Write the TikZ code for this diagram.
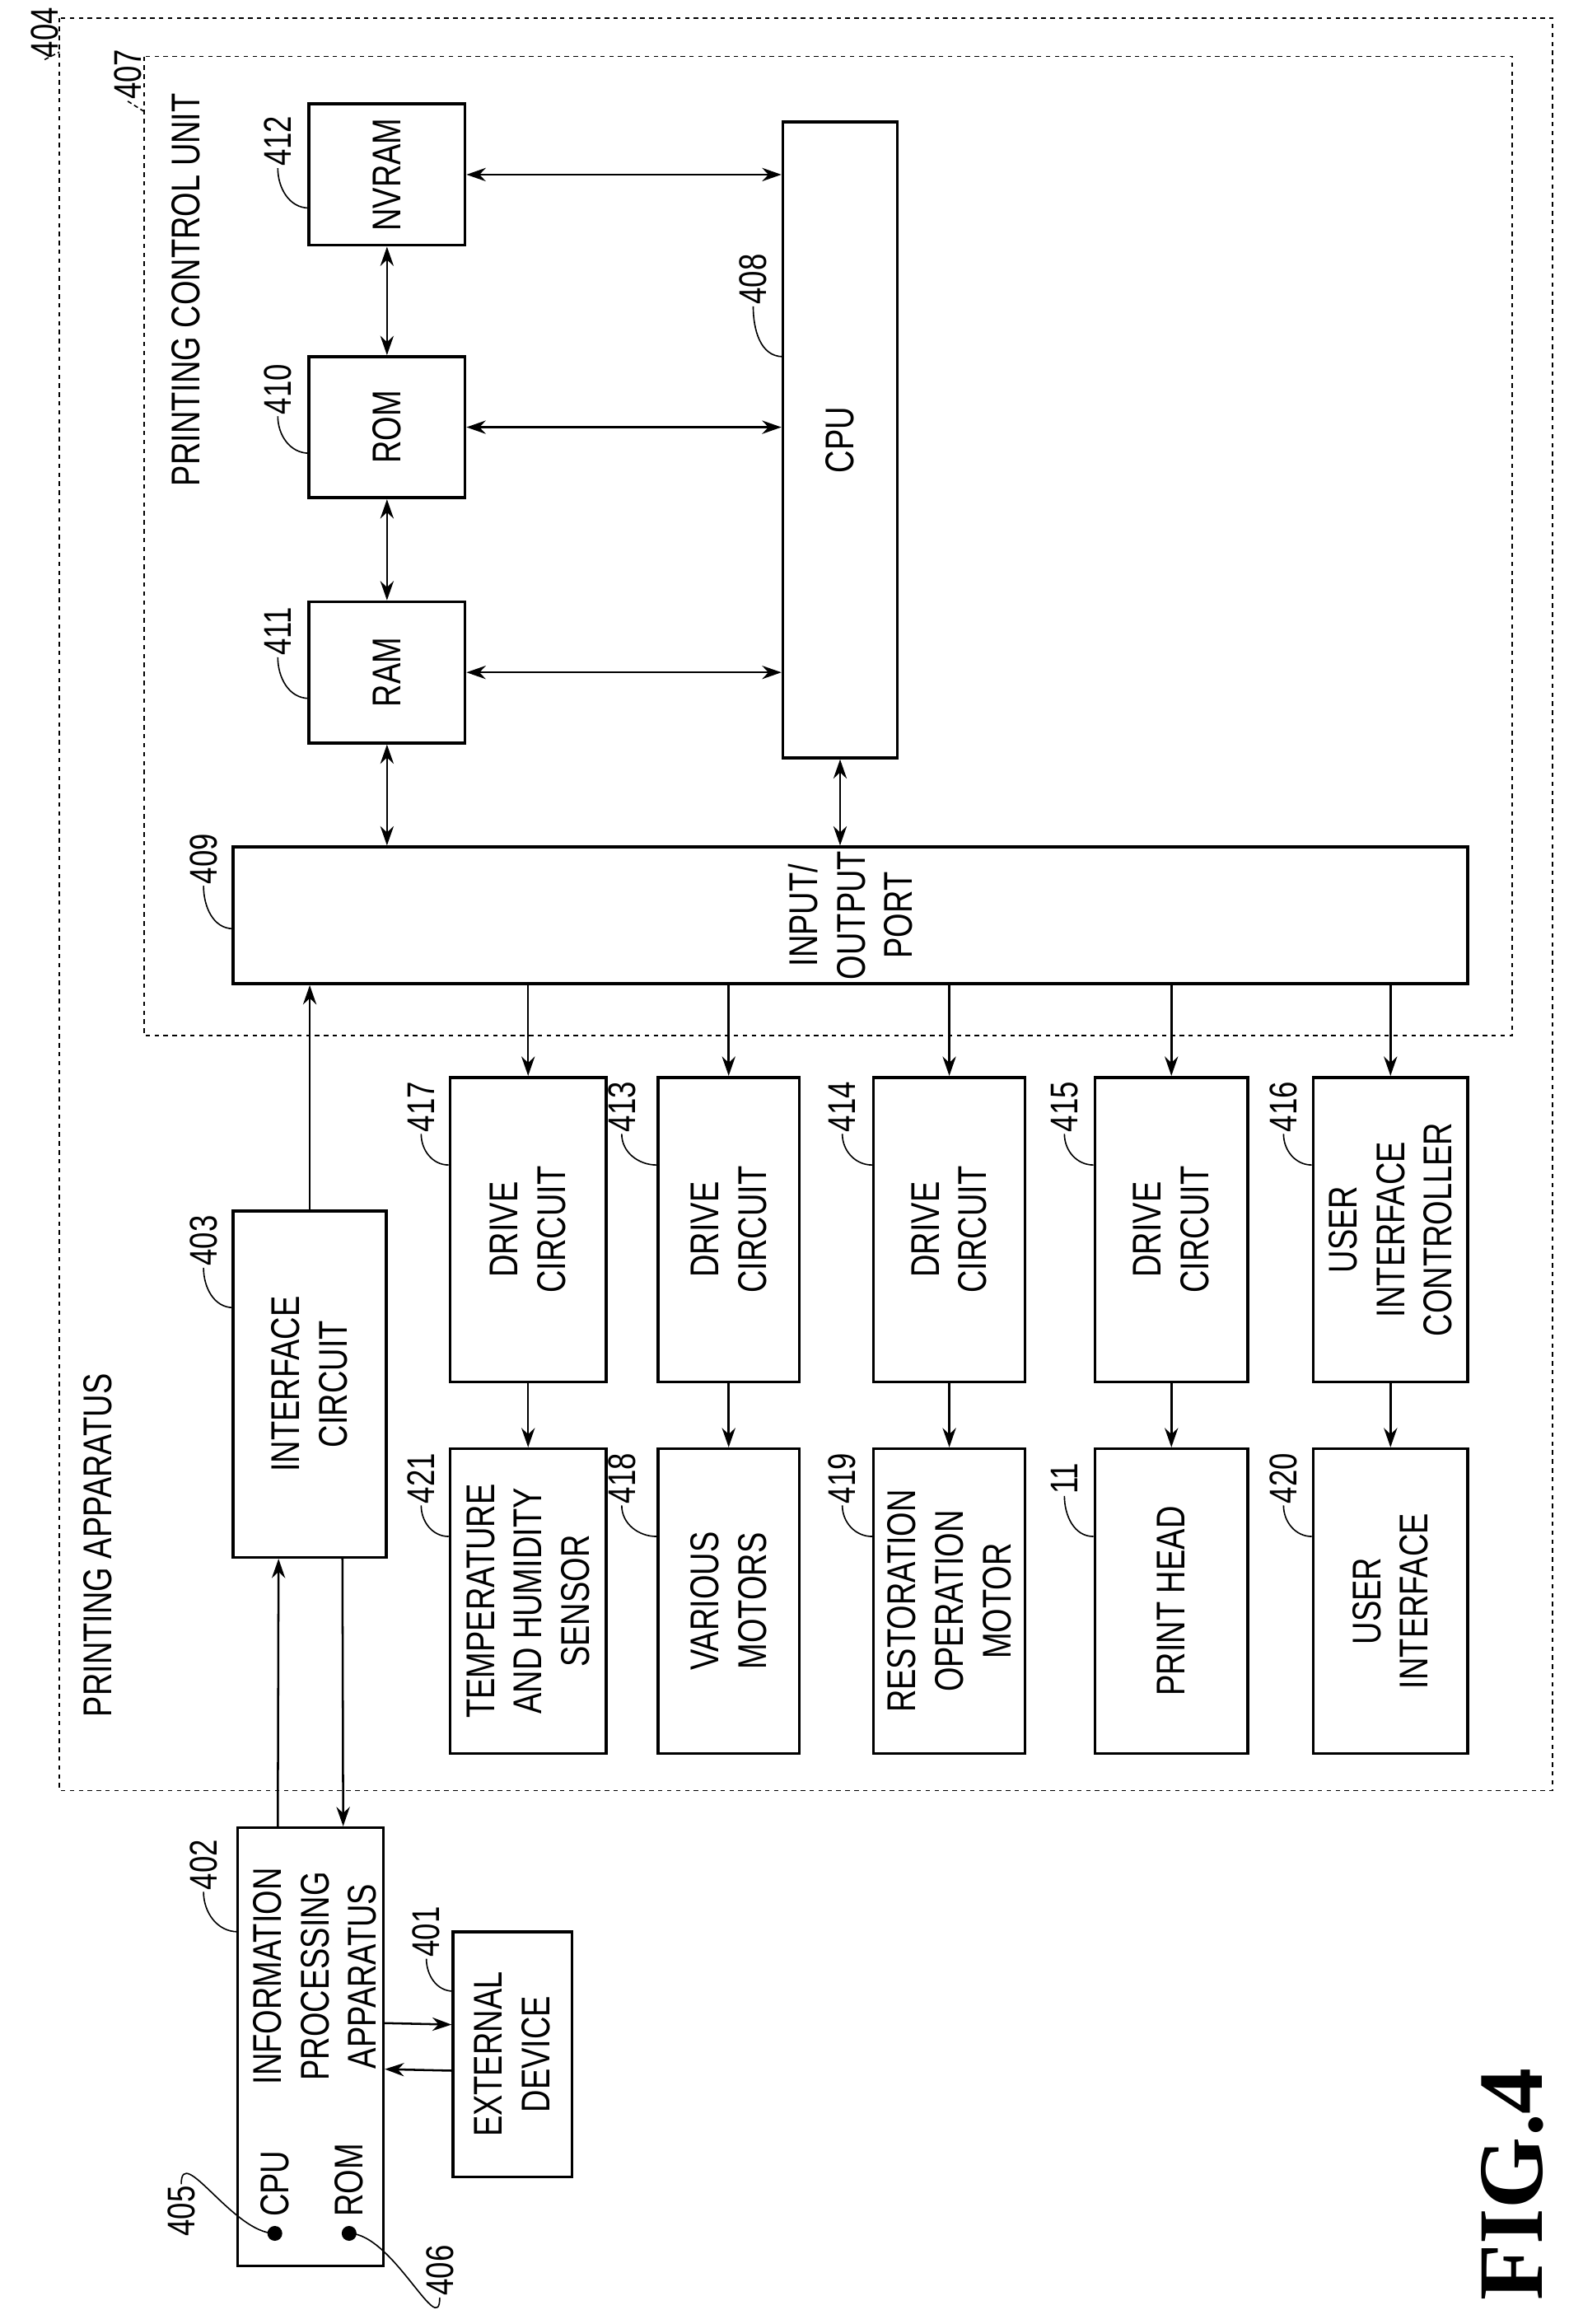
\documentclass[tikz,border=0pt]{standalone}
\usepackage{fontspec}
\setmainfont{Liberation Sans}[FakeStretch=0.78]
\newfontfamily\figfont{Liberation Serif}
\usetikzlibrary{arrows.meta, positioning, calc}
\tikzset{
  box/.style = {draw, line width=2pt, inner sep=0pt},
  txt/.style = {rotate=90, align=center, inner sep=0pt, font=\fontsize{27}{32}\selectfont},
  num/.style = {rotate=90, inner sep=1pt, font=\fontsize{26}{30}\selectfont},
  frame/.style = {draw, dashed, line width=1pt},
  arrow/.style = {line width=1.4pt, -{Stealth[length=13pt, width=9pt]}},
  darrow/.style = {line width=1.4pt, {Stealth[length=13pt, width=9pt]}-{Stealth[length=13pt, width=9pt]}},
  leader/.style = {line width=0.9pt},
}
\begin{document}
\begin{tikzpicture}[x=1pt, y=-1pt]
\useasboundingbox (0,0) rectangle (1056,1564);

% frames
\draw [frame] (40,12) rectangle (1045,1205);
\draw [frame] (97,38) rectangle (1018,697);
\node (appt) [txt] at (66,1040) {PRINTING APPARATUS};
\node (pcut) [txt] at (125,195) {PRINTING CONTROL UNIT};
\node (l404) [num] at (30,22) {404};
\node (l407) [num] at (86,50) {407};
\draw [leader, densely dashed] (l404.west) -- (40,35);
\draw [leader, densely dashed] (l407.west) -- (97,75);

% control unit
\node (nvram) [box, minimum width=105pt, minimum height=95pt] at (260.5,117.5) {};
\node (rom) [box, minimum width=105pt, minimum height=95pt] at (260.5,287.5) {};
\node (ram) [box, minimum width=105pt, minimum height=95pt] at (260.5,452.5) {};
\node (cpu) [box, minimum width=77pt, minimum height=428pt] at (565.5,296) {};
\node (io) [box, minimum width=831pt, minimum height=92pt] at (572.5,616) {};
\node (nvram-t) [txt] at (nvram) {NVRAM};
\node (rom-t) [txt] at (rom) {ROM};
\node (ram-t) [txt] at (ram) {RAM};
\node (cpu-t) [txt] at (cpu) {CPU};
\node (io-t) [txt] at (io) {INPUT/\\OUTPUT\\PORT};

\node (l412) [num] at (187,95) {412};
\node (l410) [num] at (187,262) {410};
\node (l411) [num] at (187,425) {411};
\node (l408) [num] at (507,188) {408};
\node (l409) [num] at (137,578) {409};
\draw [leader] (l412.west) to[out=-90, in=180] (208,140);
\draw [leader] (l410.west) to[out=-90, in=180] (208,305);
\draw [leader] (l411.west) to[out=-90, in=180] (208,470);
\draw [leader] (l408.west) to[out=-90, in=180] (527,240);
\draw [leader] (l409.west) to[out=-90, in=180] (157,625);

\draw [darrow] (nvram.east) -- (nvram.east -| cpu.west);
\draw [darrow] (rom.east) -- (rom.east -| cpu.west);
\draw [darrow] (ram.east) -- (ram.east -| cpu.west);
\draw [darrow] (nvram.south) -- (rom.north);
\draw [darrow] (rom.south) -- (ram.north);
\draw [darrow] (ram.south) -- (ram.south |- io.north);
\draw [darrow] (cpu.south) -- (cpu.south |- io.north);

% interface circuit
\node (ifc) [box, minimum width=103pt, minimum height=233pt] at (208.5,931.5) {};
\node (ifc-t) [txt] at (ifc) {INTERFACE\\CIRCUIT};
\node (l403) [num] at (137,835) {403};
\draw [leader] (l403.west) to[out=-90, in=180] (157,880);
\draw [arrow] (ifc.north) -- (ifc.north |- io.south);

% drive circuits
\foreach \n/\cx/\w/\t in {417/355.5/105/DRIVE\\CIRCUIT, 413/490.5/95/DRIVE\\CIRCUIT,
    414/639/102/DRIVE\\CIRCUIT, 415/788.5/103/DRIVE\\CIRCUIT,
    416/936/104/USER\\INTERFACE\\CONTROLLER} {
  \node (d\n) [box, minimum width=\w pt, minimum height=205pt] at (\cx,827.5) {};
  \node (d\n-t) [txt] at (d\n) {\t};
  \node (l\n) [num] at (\cx-72,745) {\n};
  \draw [leader] (l\n.west) to[out=-90, in=180] ($(d\n.north west)+(0,60)$);
  \draw [arrow] (io.south -| d\n.north) -- (d\n.north);
}

% devices
\foreach \n/\d/\cx/\w/\t in {421/417/355.5/105/TEMPERATURE\\AND HUMIDITY\\SENSOR,
    418/413/490.5/95/VARIOUS\\MOTORS, 419/414/639/102/RESTORATION\\OPERATION\\MOTOR,
    11/415/788.5/103/PRINT HEAD, 420/416/936/104/USER\\INTERFACE} {
  \node (e\n) [box, minimum width=\w pt, minimum height=205pt] at (\cx,1077.5) {};
  \node (e\n-t) [txt] at (e\n) {\t};
  \node (m\n) [num] at (\cx-72,995) {\n};
  \draw [leader] (m\n.west) to[out=-90, in=180] ($(e\n.north west)+(0,60)$);
  \draw [arrow] (d\d.south) -- (e\n.north);
}

% information processing apparatus
\node (info) [box, minimum width=98pt, minimum height=295pt] at (209,1377.5) {};
\node (info-t) [txt] at (212,1330) {INFORMATION\\PROCESSING\\APPARATUS};
\node (icpu) [txt, anchor=west] at (185,1492) {CPU};
\node (irom) [txt, anchor=west] at (235,1492) {ROM};
\fill (185,1503) circle (5pt) coordinate (dcpu);
\fill (235,1503) circle (5pt) coordinate (drom);
\node (l402) [num] at (137,1255) {402};
\draw [leader] (l402.west) to[out=-90, in=180] (160,1300);
\node (l405) [num] at (122,1488) {405};
\draw [leader] (l405.east) to[out=90, in=180] (dcpu);
\node (l406) [num] at (296,1528) {406};
\draw [leader] (l406.west) to[out=-90, in=0] (drom);
\draw [arrow] ($(info.north)+(-22,0)$) -- ($(ifc.south)+(-21,0)$);
\draw [arrow] ($(ifc.south)+(22,0)$) -- ($(info.north)+(22,0)$);

% external device
\node (ext) [box, minimum width=80pt, minimum height=165pt] at (345,1382.5) {};
\node (ext-t) [txt] at (ext) {EXTERNAL\\DEVICE};
\node (l401) [num] at (287,1300) {401};
\draw [leader] (l401.west) to[out=-90, in=180] (305,1340);
\draw [arrow] ($(info.east)+(0,-16)$) -- ($(ext.west)+(0,-20)$);
\draw [arrow] ($(ext.west)+(0,11)$) -- ($(info.east)+(0,15)$);

\node (fig) [rotate=90, font=\figfont\bfseries\fontsize{62}{70}\selectfont] at (1018,1470) {FIG.4};
\end{tikzpicture}
\end{document}
